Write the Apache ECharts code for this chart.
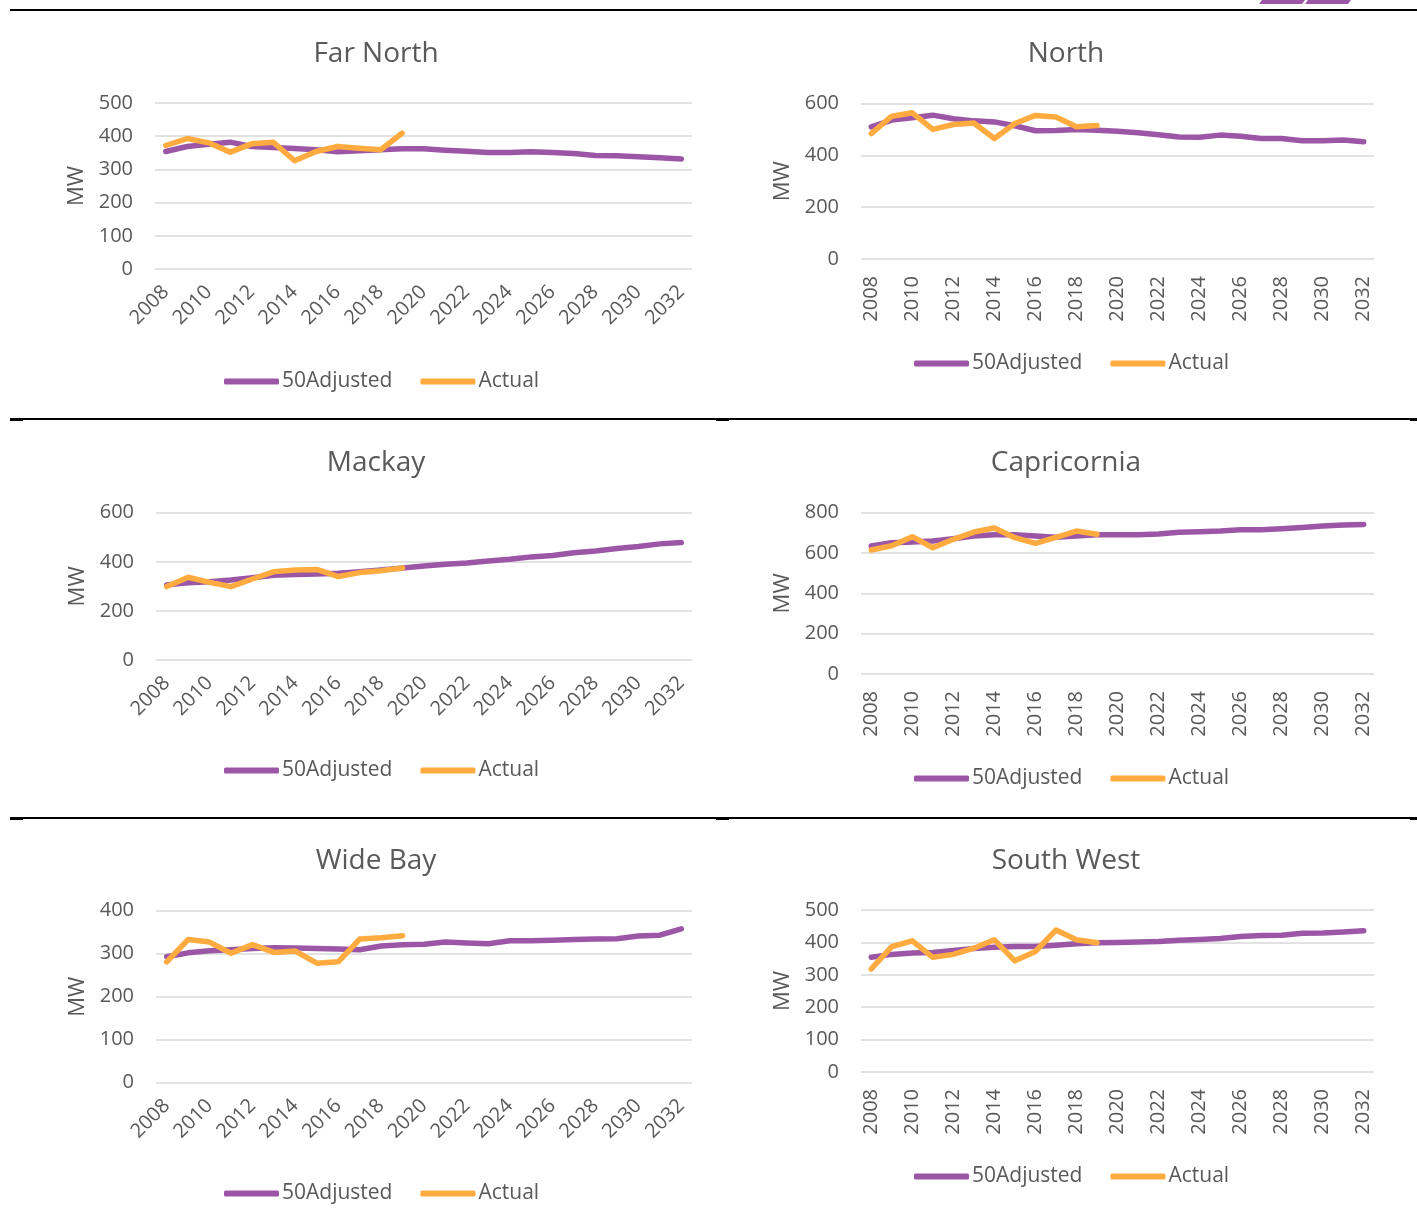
<!DOCTYPE html>
<html>
<head>
<meta charset="utf-8">
<script src="https://cdn.jsdelivr.net/npm/echarts@6/dist/echarts.min.js"></script>
<style>
html,body{margin:0;padding:0;background:#fff;}
#chart{width:1417px;height:1225px;}
</style>
</head>
<body>
<div id="chart"></div>
<script>
const years = ['2008','2009','2010','2011','2012','2013','2014','2015','2016','2017','2018','2019','2020',
  '2021','2022','2023','2024','2025','2026','2027','2028','2029','2030','2031','2032'];

const farNorthAdj = [354,369,376,382,369,366,363,359,353,356,359,362,362,358,355,351,351,353,351,348,342,341,338,335,331];
const farNorthAct = [372,393,380,352,377,382,326,354,369,364,359,409];

const northAdj = [510,536,545,555,541,533,529,514,495,496,500,497,493,487,479,471,470,478,474,465,465,456,456,459,452];
const northAct = [484,551,564,500,519,525,465,523,554,548,510,515];

const mackayAdj = [306,315,319,326,335,345,348,350,353,360,367,375,383,390,395,403,410,420,426,437,444,454,462,473,479];
const mackayAct = [299,337,316,299,330,360,367,369,340,356,364,375];

const capricorniaAdj = [635,651,655,660,671,684,691,691,684,678,684,691,691,691,694,703,706,709,716,716,721,727,734,739,742];
const capricorniaAct = [615,636,681,626,668,704,724,676,648,678,709,693];

const wideBayAdj = [293,302,307,309,312,314,313,312,311,309,318,321,322,327,325,323,330,330,331,333,334,335,341,343,358];
const wideBayAct = [281,333,327,301,321,303,306,278,281,334,337,342];

const southWestAdj = [354,363,367,369,375,381,385,387,387,391,396,399,400,401,403,407,409,412,418,421,422,428,429,432,436];
const southWestAct = [318,387,405,354,363,382,408,343,372,438,408,399];

const panels = [
  {title:'Far North',   adj:farNorthAdj,    act:farNorthAct,    max:500, interval:100},
  {title:'North',       adj:northAdj,       act:northAct,       max:600, interval:200},
  {title:'Mackay',      adj:mackayAdj,      act:mackayAct,      max:600, interval:200},
  {title:'Capricornia', adj:capricorniaAdj, act:capricorniaAct, max:800, interval:200},
  {title:'Wide Bay',    adj:wideBayAdj,     act:wideBayAct,     max:400, interval:100},
  {title:'South West',  adj:southWestAdj,   act:southWestAct,   max:500, interval:100}
];

// layout (pixel positions)
const layout = [
  {grid:{left:155,top:103,width:537,height:166}, rot:45, titleX:371, titleY:35, legendX:219, legendY:366},
  {grid:{left:861,top:103.5,width:513,height:155.5}, rot:90, titleX:1061, titleY:35, legendX:909, legendY:348},
  {grid:{left:156,top:512.7,width:536,height:147.3}, rot:45, titleX:371, titleY:444, legendX:219, legendY:755},
  {grid:{left:861,top:512.7,width:513,height:161.3}, rot:90, titleX:1061, titleY:444, legendX:909, legendY:763},
  {grid:{left:156,top:910.7,width:536,height:172}, rot:45, titleX:371, titleY:842, legendX:219, legendY:1178},
  {grid:{left:861,top:910,width:513,height:162}, rot:90, titleX:1061, titleY:842, legendX:909, legendY:1161}
];

const PURPLE = '#9b57a6';
const ORANGE = '#ffab40';
const TXT = '#595959';
const FONT = '"Open Sans", "Noto Sans", sans-serif';

const option = {
  animation:false,
  backgroundColor:'#fff',
  textStyle:{fontFamily:FONT},
  title:[], grid:[], xAxis:[], yAxis:[], legend:[], series:[],
  graphic:[]
};

panels.forEach((p,i)=>{
  const L = layout[i];
  option.title.push({
    text:p.title, left:L.titleX, top:L.titleY, textAlign:'center',
    textStyle:{fontSize:28, fontWeight:'normal', color:TXT, fontFamily:FONT}
  });
  option.grid.push(Object.assign({containLabel:false}, L.grid));
  option.xAxis.push({
    type:'category', gridIndex:i, data:years, boundaryGap:true,
    axisLine:{show:false}, axisTick:{show:false},
    axisLabel:{interval:1, rotate:L.rot, color:TXT, fontSize:20, fontFamily:FONT, margin: L.rot===90 ? 17 : 20}
  });
  option.yAxis.push({
    type:'value', gridIndex:i, min:0, max:p.max, interval:p.interval,
    name:'MW', nameLocation:'middle', nameRotate:90, nameGap:67,
    nameTextStyle:{fontSize:22, color:TXT, fontFamily:FONT},
    axisLine:{show:false}, axisTick:{show:false},
    axisLabel:{color:TXT, fontSize:20, fontFamily:FONT, margin:22},
    splitLine:{lineStyle:{color:'#d9d9d9', width:1.5}}
  });
  option.legend.push({
    data:['50Adjusted','Actual'], left:L.legendX, top:L.legendY,
    icon:'roundRect', itemWidth:55, itemHeight:6, itemGap:28,
    textStyle:{fontSize:21, color:TXT, fontFamily:FONT, padding:[0,0,0,-2]}
  });
  option.series.push({
    name:'50Adjusted', type:'line', xAxisIndex:i, yAxisIndex:i, data:p.adj,
    symbol:'none', color:PURPLE,
    lineStyle:{width:5.5, color:PURPLE, cap:'round', join:'round'}
  });
  option.series.push({
    name:'Actual', type:'line', xAxisIndex:i, yAxisIndex:i, data:p.act,
    symbol:'none', color:ORANGE,
    lineStyle:{width:5.5, color:ORANGE, cap:'round', join:'round'}
  });
});

// table borders and decoration
[10, 419, 818].forEach(y=>{
  option.graphic.push({type:'rect', shape:{x:10,y:y-1,width:1407,height:2}, style:{fill:'#000'}, silent:true});
  if (y !== 10) {
    [10, 716, 1410].forEach(x=>{
      option.graphic.push({type:'rect', shape:{x:x,y:y,width:13,height:2}, style:{fill:'#000'}, silent:true});
    });
  }
});
option.graphic.push({type:'polygon', shape:{points:[[1259,4],[1302,4],[1305,0],[1262,0]]}, style:{fill:'#9b57a6'}, silent:true});
option.graphic.push({type:'polygon', shape:{points:[[1305,4],[1348,4],[1351,0],[1308,0]]}, style:{fill:'#9b57a6'}, silent:true});

const chart = echarts.init(document.getElementById('chart'));
chart.setOption(option);
</script>
</body>
</html>
